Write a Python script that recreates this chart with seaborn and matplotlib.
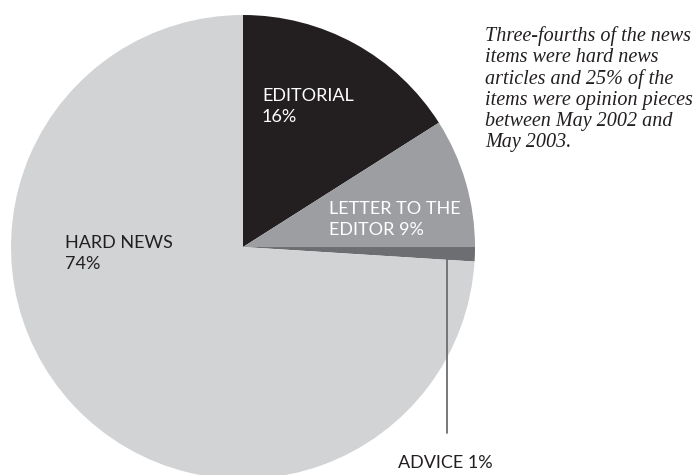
import numpy as np
import matplotlib
matplotlib.use('Agg')
import matplotlib.pyplot as plt
import seaborn as sns

sns.set_style('white')

categories = ['EDITORIAL', 'LETTER TO THE\nEDITOR', 'ADVICE', 'HARD NEWS']
shares = [16, 9, 1, 74]
slice_colors = ['#231f20', '#9c9ea1', '#6d6e71', '#d1d3d4']
note = ('Three-fourths of the news\nitems were hard news\narticles and 25% of the\n'
        'items were opinion pieces\nbetween May 2002 and\nMay 2003.')

W, H = 699, 475
fig = plt.figure(figsize=(W / 100, H / 100), dpi=100)
ax = fig.add_axes([0, 0, 1, 1])

cx, cy, r = 243, H - 247, 232
ax.pie(shares, colors=slice_colors, startangle=90, counterclock=False,
       center=(cx, cy), radius=r, wedgeprops={'linewidth': 0})
ax.set_xlim(0, W)
ax.set_ylim(0, H)
ax.set_aspect('auto')
ax.axis('off')

lab = dict(family='Lato', fontsize=13, va='top', ha='left', linespacing=1.38)
ax.text(262, H - 88, f'{categories[0]}\n{shares[0]}%', color='white', **lab)
ax.text(329, H - 201, f'{categories[1]} {shares[1]}%', color='white', **lab)
ax.text(65, H - 235, f'{categories[3]}\n{shares[3]}%', color='#231f20', **lab)
ax.text(398, H - 455, f'{categories[2]} {shares[2]}%', color='#231f20', **lab)

# leader line for the thin advice slice
ax.plot([447, 447], [H - 257, H - 433], color='#6d6e71', lw=1.3)

ax.text(485, H - 26, note, family='Liberation Serif', style='italic',
        fontsize=14.5, color='#231f20', va='top', ha='left', linespacing=1.15)

fig.savefig('out.png', dpi=100)
